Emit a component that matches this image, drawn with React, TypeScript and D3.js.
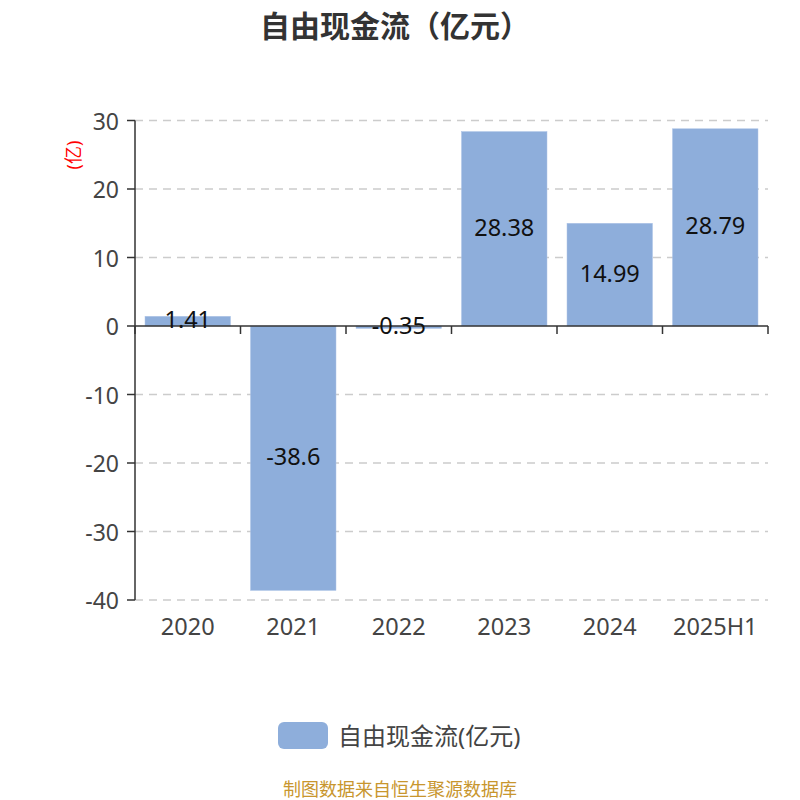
import React from "react";
import * as d3 from "d3";

const categories = ["2020", "2021", "2022", "2023", "2024", "2025H1"];
const values = [1.41, -38.6, -0.35, 28.38, 14.99, 28.79];
const labels = ["1.41", "-38.6", "-0.35", "28.38", "14.99", "28.79"];
const yTicks = [30, 20, 10, 0, -10, -20, -30, -40];

const W = 800;
const H = 800;
const left = 135;
const right = 768;
const top = 120.5;
const bottom = 600;
const barColor = "#8eaedb";
const font = "'Noto Sans', 'Noto Sans CJK SC', sans-serif";

export default function App() {
  const x = d3.scaleBand<string>().domain(categories).range([left, right]).paddingInner(0.19).paddingOuter(0.095);
  const band = d3.scaleBand<string>().domain(categories).range([left, right]);
  const y = d3.scaleLinear().domain([-40, 30]).range([bottom, top]);
  const y0 = y(0);

  return (
    <svg width={W} height={H} style={{ position: "absolute", left: 0, top: 0, background: "#fff" }} fontFamily={font}>
      <text x={395} y={25} textAnchor="middle" dominantBaseline="central" fontSize={30} fontWeight="bold" fill="#333">
        自由现金流（亿元）
      </text>
      <text transform={`translate(73,155) rotate(-90)`} textAnchor="middle" dominantBaseline="central" fontSize={18} fill="#ff0000">
        (亿)
      </text>
      {yTicks.map((t) => (
        <g key={t}>
          {t !== 0 && (
            <line x1={left} x2={right} y1={y(t)} y2={y(t)} stroke="#cccccc" strokeWidth={1.5} strokeDasharray="8,6" />
          )}
          <line x1={left - 8} x2={left} y1={y(t)} y2={y(t)} stroke="#333" strokeWidth={1.5} />
          <text x={left - 16} y={y(t)} textAnchor="end" dominantBaseline="central" fontSize={23} fill="#444">
            {t}
          </text>
        </g>
      ))}
      {categories.map((c, i) => {
        const v = values[i];
        const yTop = y(Math.max(0, v));
        const yBot = y(Math.min(0, v));
        return (
          <g key={c}>
            <rect x={x(c)} y={yTop} width={x.bandwidth()} height={Math.max(1, yBot - yTop)} fill={barColor} stroke="#a9c1e6" strokeWidth={0.5} />
          </g>
        );
      })}
      <line x1={left} x2={left} y1={top} y2={bottom} stroke="#333" strokeWidth={1.5} />
      <line x1={left} x2={right} y1={y0} y2={y0} stroke="#333" strokeWidth={1.5} />
      {[...categories.map((c) => band(c) as number), right].map((xx, i) => (
        <line key={i} x1={xx} x2={xx} y1={y0} y2={y0 + 8} stroke="#333" strokeWidth={1.5} />
      ))}
      {categories.map((c, i) => {
        const v = values[i];
        const mid = (y(Math.max(0, v)) + y(Math.min(0, v))) / 2;
        return (
          <text key={c} x={(x(c) as number) + x.bandwidth() / 2} y={mid - 2} textAnchor="middle" dominantBaseline="central" fontSize={23.5} fill="#111">
            {labels[i]}
          </text>
        );
      })}
      {categories.map((c) => (
        <text key={c} x={(band(c) as number) + band.bandwidth() / 2} y={626} textAnchor="middle" dominantBaseline="central" fontSize={23.5} fill="#444">
          {c}
        </text>
      ))}
      <rect x={278} y={722} width={50} height={27} rx={6} fill={barColor} />
      <text x={338} y={735} dominantBaseline="central" fontSize={24} fill="#444">
        自由现金流(亿元)
      </text>
      <text x={400} y={789} textAnchor="middle" dominantBaseline="central" fontSize={18} fill="#c8962e">
        制图数据来自恒生聚源数据库
      </text>
    </svg>
  );
}
